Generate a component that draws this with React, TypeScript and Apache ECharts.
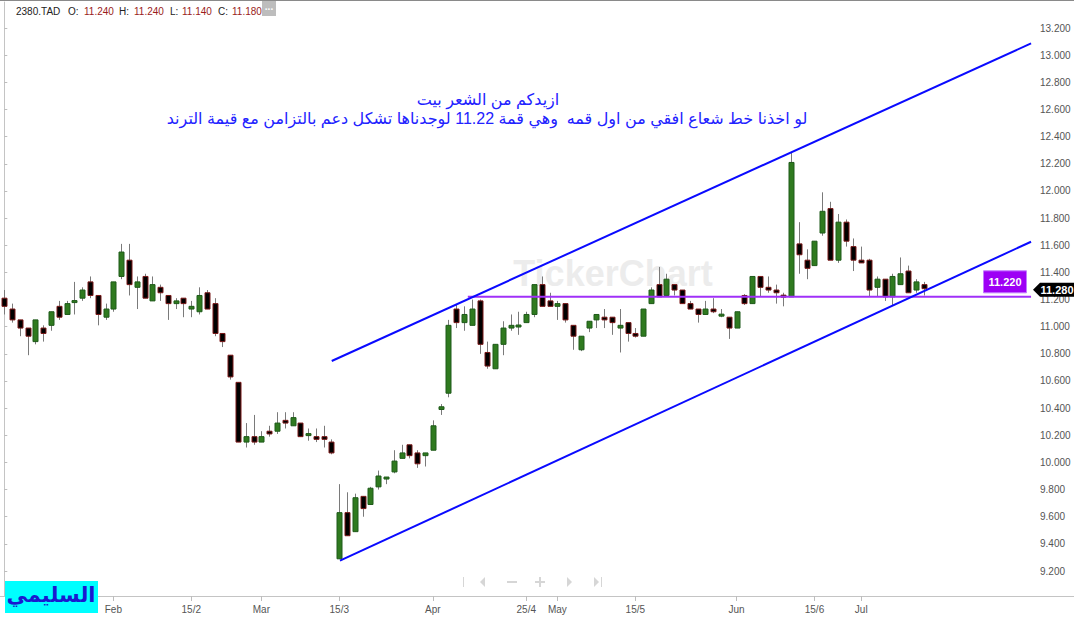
import React, { useEffect, useRef } from 'react';
import * as echarts from 'echarts';

// ---- data ----
const opens = [
  11.21, 11.13, 11.05, 10.99, 10.89, 10.99, 11.01, 11.15, 11.09, 11.18,
  11.21, 11.33, 11.23, 11.07, 11.13, 11.37, 11.49, 11.29, 11.37, 11.19,
  11.29, 11.23, 11.17, 11.21, 11.13, 11.11, 11.25, 11.17, 10.95, 10.79,
  10.59, 10.15, 10.19, 10.15, 10.23, 10.23, 10.31, 10.27, 10.29, 10.20,
  10.19, 10.19, 10.15, 9.29, 9.63, 9.49, 9.75, 9.69, 9.82, 9.88,
  9.93, 10.03, 10.13, 10.07, 10.05, 10.09, 10.39, 10.51, 11.13, 11.03,
  11.01, 11.19, 10.81, 10.69, 10.87, 10.99, 11.0, 11.03, 11.09, 11.31,
  11.19, 11.15, 11.17, 11.01, 10.83, 10.99, 11.05, 11.07, 11.07, 10.99,
  11.03, 10.95, 10.93, 11.17, 11.31, 11.23, 11.31, 11.27, 11.17, 11.13,
  11.09, 11.13, 11.08, 11.07, 10.99, 11.23, 11.17, 11.37, 11.29, 11.27,
  11.23, 11.22, 11.61, 11.49, 11.45, 11.69, 11.87, 11.49, 11.77, 11.59,
  11.49, 11.49, 11.29, 11.35, 11.22, 11.31, 11.41, 11.27, 11.31,
];
const closes = [
  11.15, 11.05, 10.99, 10.93, 11.05, 10.95, 11.11, 11.07, 11.17, 11.19,
  11.27, 11.23, 11.09, 11.13, 11.33, 11.55, 11.31, 11.33, 11.21, 11.31,
  11.25, 11.17, 11.19, 11.17, 11.15, 11.23, 11.13, 10.95, 10.89, 10.63,
  10.15, 10.19, 10.15, 10.19, 10.21, 10.29, 10.29, 10.33, 10.19, 10.21,
  10.17, 10.17, 10.07, 9.63, 9.46, 9.74, 9.66, 9.81, 9.90, 9.89,
  10.01, 10.07, 10.05, 9.99, 10.07, 10.27, 10.41, 11.01, 11.03, 11.09,
  11.13, 10.87, 10.71, 10.87, 10.99, 11.01, 11.01, 11.09, 11.31, 11.15,
  11.15, 11.17, 11.05, 10.93, 10.93, 11.04, 11.09, 11.05, 11.03, 11.01,
  10.95, 10.93, 11.13, 11.27, 11.22, 11.35, 11.27, 11.17, 11.13, 11.09,
  11.13, 11.11, 11.09, 10.99, 11.11, 11.17, 11.37, 11.29, 11.27, 11.25,
  11.22, 12.21, 11.53, 11.43, 11.63, 11.85, 11.49, 11.77, 11.63, 11.49,
  11.47, 11.27, 11.35, 11.22, 11.37, 11.39, 11.25, 11.33, 11.28,
];
const lows = [
  11.09, 11.03, 10.93, 10.79, 10.87, 10.89, 10.97, 11.05, 11.09, 11.09,
  11.19, 11.21, 11.01, 11.05, 11.11, 11.35, 11.23, 11.13, 11.21, 11.19,
  11.19, 11.05, 11.13, 11.07, 11.07, 11.09, 11.13, 10.93, 10.85, 10.61,
  10.15, 10.11, 10.13, 10.15, 10.19, 10.21, 10.25, 10.27, 10.19, 10.16,
  10.15, 10.11, 10.06, 9.29, 9.46, 9.49, 9.60, 9.69, 9.80, 9.84,
  9.92, 10.03, 10.03, 9.96, 9.97, 10.09, 10.35, 10.48, 10.99, 10.97,
  11.01, 10.80, 10.69, 10.69, 10.79, 10.97, 10.94, 11.03, 11.07, 11.15,
  11.15, 11.05, 11.03, 10.83, 10.82, 10.96, 10.99, 10.99, 10.94, 10.81,
  10.89, 10.92, 10.93, 11.17, 11.22, 11.23, 11.23, 11.17, 11.13, 11.03,
  11.09, 11.10, 11.07, 10.91, 10.99, 11.16, 11.17, 11.22, 11.25, 11.17,
  11.15, 11.22, 11.39, 11.35, 11.45, 11.67, 11.49, 11.47, 11.59, 11.41,
  11.47, 11.22, 11.22, 11.19, 11.16, 11.31, 11.25, 11.25, 11.23,
];
const highs = [
  11.27, 11.17, 11.05, 10.99, 11.05, 11.01, 11.11, 11.19, 11.19, 11.33,
  11.29, 11.37, 11.23, 11.17, 11.33, 11.61, 11.61, 11.37, 11.39, 11.37,
  11.31, 11.23, 11.21, 11.21, 11.19, 11.29, 11.27, 11.21, 10.95, 10.79,
  10.59, 10.29, 10.35, 10.23, 10.27, 10.37, 10.37, 10.37, 10.29, 10.25,
  10.25, 10.27, 10.17, 9.84, 9.78, 9.77, 9.75, 9.82, 9.94, 9.89,
  10.09, 10.13, 10.13, 10.09, 10.07, 10.31, 10.43, 11.05, 11.16, 11.15,
  11.20, 11.20, 10.89, 10.87, 11.04, 11.09, 11.11, 11.11, 11.31, 11.37,
  11.25, 11.19, 11.17, 11.01, 10.93, 11.04, 11.09, 11.13, 11.07, 11.13,
  11.03, 10.99, 11.13, 11.29, 11.44, 11.39, 11.31, 11.27, 11.19, 11.13,
  11.19, 11.21, 11.13, 11.07, 11.11, 11.24, 11.37, 11.37, 11.37, 11.31,
  11.25, 12.28, 11.77, 11.57, 11.63, 11.99, 11.92, 11.83, 11.79, 11.65,
  11.59, 11.50, 11.37, 11.35, 11.39, 11.51, 11.45, 11.35, 11.33,
];

const tickIndex = [14, 24, 33, 43, 55, 67, 71, 81, 94, 104, 110];
const tickLabels = ['Feb', '15/2', 'Mar', '15/3', 'Apr', '25/4', 'May', '15/5', 'Jun', '15/6', 'Jul'];
const priceTicks = [9.2, 9.4, 9.6, 9.8, 10.0, 10.2, 10.4, 10.6, 10.8, 11.0, 11.2, 11.4, 11.6, 11.8, 12.0, 12.2, 12.4, 12.6, 12.8, 13.0, 13.2];

const upperChannel = [[42.03, 10.747], [131.8, 13.087]];
const lowerChannel = [[43.09, 9.276], [131.8, 11.626]];
const supportLevel = 11.22;
const supportFrom = 59.5;
const supportTo = 131.8;
const lastClose = 11.28;

const headerSymbol = '2380.TAD';
const headerFields = [['O:', '11.240'], ['H:', '11.240'], ['L:', '11.140'], ['C:', '11.180']];

const noteLine1 = 'ازيدكم من الشعر بيت';
const noteLine2 = 'لو اخذنا خط شعاع افقي من اول قمه  وهي قمة 11.22 لوجدناها تشكل دعم بالتزامن مع قيمة الترند';
const signature = 'السليمي';
const watermark = 'TickerChart';

const FONT = 'Arial, "Liberation Sans", "DejaVu Sans", sans-serif';

export default function App() {
  const ref = useRef<HTMLDivElement>(null);

  useEffect(() => {
    const el = ref.current;
    if (!el) return;
    const chart = echarts.init(el, null, { renderer: 'svg' });

    const candleData = opens.map((o, i) => [i, o, closes[i], lows[i], highs[i]]);

    chart.setOption({
      animation: false,
      backgroundColor: '#ffffff',
      grid: { left: 0, right: 41, top: 2, bottom: 21 },
      xAxis: {
        type: 'value',
        min: -0.552,
        max: 132.05,
        axisLine: { show: true, lineStyle: { color: '#c4c4c4', width: 1 } },
        axisTick: { show: true, customValues: tickIndex, length: 5, lineStyle: { color: '#bdbdbd' } },
        axisLabel: {
          show: true,
          customValues: tickIndex,
          formatter: (v: number) => {
            const k = tickIndex.indexOf(Math.round(v));
            return k >= 0 ? tickLabels[k] : '';
          },
          color: '#555555',
          fontSize: 10,
          fontFamily: FONT,
          margin: 8,
        },
        splitLine: { show: false },
      },
      yAxis: {
        type: 'value',
        position: 'right',
        min: 9.016,
        max: 13.392,
        axisLine: { show: true, lineStyle: { color: '#c4c4c4', width: 1 } },
        axisTick: { show: true, customValues: priceTicks, length: 3, lineStyle: { color: '#bdbdbd' } },
        axisLabel: {
          show: true,
          customValues: priceTicks,
          formatter: (v: number) => v.toFixed(3),
          color: '#555555',
          fontSize: 10,
          fontFamily: FONT,
          margin: 7,
        },
        splitLine: { show: false },
      },
      series: [
        {
          type: 'custom',
          data: candleData,
          encode: { x: 0, y: [1, 2, 3, 4] },
          z: 3,
          clip: false,
          renderItem: (params: any, api: any) => {
            const x = api.value(0);
            const o = api.value(1);
            const c = api.value(2);
            const l = api.value(3);
            const h = api.value(4);
            const pO = api.coord([x, o]);
            const pC = api.coord([x, c]);
            const pL = api.coord([x, l]);
            const pH = api.coord([x, h]);
            const cx = Math.round(pO[0]) + 0.5;
            const up = c >= o;
            let top = Math.min(pO[1], pC[1]);
            let bot = Math.max(pO[1], pC[1]);
            if (bot - top < 1.5) {
              const m = (top + bot) / 2;
              top = m - 1;
              bot = m + 1;
            }
            const w = 5;
            return {
              type: 'group',
              children: [
                {
                  type: 'line',
                  shape: { x1: cx, y1: pH[1], x2: cx, y2: pL[1] },
                  style: { stroke: '#7a7a7a', lineWidth: 1 },
                },
                {
                  type: 'rect',
                  shape: { x: cx - w / 2, y: top, width: w, height: bot - top },
                  style: {
                    fill: up ? '#2f7a1f' : '#000000',
                    stroke: up ? '#1f5a1a' : '#7a1818',
                    lineWidth: 1,
                  },
                },
              ],
            };
          },
        },
        {
          type: 'line',
          data: upperChannel,
          symbol: 'none',
          silent: true,
          z: 5,
          lineStyle: { color: '#0a0aff', width: 2 },
        },
        {
          type: 'line',
          data: lowerChannel,
          symbol: 'none',
          silent: true,
          z: 5,
          lineStyle: { color: '#0a0aff', width: 2 },
        },
        {
          type: 'line',
          data: [[supportFrom, supportLevel], [supportTo, supportLevel]],
          symbol: 'none',
          silent: true,
          z: 4,
          lineStyle: { color: '#a030f8', width: 2 },
        },
      ],
    });

    const sy = chart.convertToPixel({ yAxisIndex: 0 }, supportLevel) as unknown as number;
    const cy = (chart.convertToPixel({ yAxisIndex: 0 }, lastClose) as unknown as number) + 1;

    const graphics: any[] = [];
    graphics.push({ type: 'line', shape: { x1: 0, y1: 0.5, x2: 1074, y2: 0.5 }, style: { stroke: '#8a8a8a', lineWidth: 1 }, z: 1 });
    graphics.push({ type: 'line', shape: { x1: 1033, y1: 596.5, x2: 1074, y2: 596.5 }, style: { stroke: '#c4c4c4', lineWidth: 1 }, z: 1 });

    graphics.push({ type: 'text', x: 16, y: 11, style: { text: headerSymbol, fill: '#222222', font: `10px ${FONT}`, verticalAlign: 'middle' }, z: 10 });
    const labelX = [68, 119, 170, 218];
    const valueX = [84, 134, 182, 232];
    headerFields.forEach((f, i) => {
      graphics.push({ type: 'text', x: labelX[i], y: 11, style: { text: f[0], fill: '#222222', font: `10px ${FONT}`, verticalAlign: 'middle' }, z: 10 });
      graphics.push({ type: 'text', x: valueX[i], y: 11, style: { text: f[1], fill: '#9a1c1c', font: `10px ${FONT}`, verticalAlign: 'middle' }, z: 10 });
    });
    graphics.push({ type: 'rect', shape: { x: 262, y: 1, width: 14, height: 15 }, style: { fill: '#bdbdbd' }, z: 10 });
    graphics.push({ type: 'text', x: 269, y: 6, style: { text: '...', fill: '#ffffff', font: `bold 10px ${FONT}`, align: 'center', verticalAlign: 'middle' }, z: 11 });

    graphics.push({ type: 'text', x: 613, y: 273, style: { text: watermark, fill: '#ececec', font: `bold 36px ${FONT}`, align: 'center', verticalAlign: 'middle' }, z: 0 });

    graphics.push({ type: 'text', x: 488, y: 99, style: { text: noteLine1, fill: '#2222ff', font: `16px ${FONT}`, align: 'center', verticalAlign: 'middle' }, z: 10 });
    graphics.push({ type: 'text', x: 487, y: 118, style: { text: noteLine2, fill: '#2222ff', font: `16px ${FONT}`, align: 'center', verticalAlign: 'middle' }, z: 10 });

    graphics.push({ type: 'rect', shape: { x: 5, y: 581, width: 93, height: 32 }, style: { fill: '#00ffff' }, z: 10 });
    graphics.push({ type: 'text', x: 51, y: 594, style: { text: signature, fill: '#1a1ad0', font: `bold 21px ${FONT}`, align: 'center', verticalAlign: 'middle' }, z: 11 });

    const navC = '#d6d6d6';
    graphics.push({ type: 'rect', shape: { x: 463, y: 577, width: 1, height: 10 }, style: { fill: navC }, z: 10 });
    graphics.push({ type: 'polygon', shape: { points: [[480, 582], [485, 577], [485, 587]] }, style: { fill: navC }, z: 10 });
    graphics.push({ type: 'rect', shape: { x: 507, y: 581, width: 10, height: 2 }, style: { fill: navC }, z: 10 });
    graphics.push({ type: 'rect', shape: { x: 535, y: 581, width: 10, height: 2 }, style: { fill: navC }, z: 10 });
    graphics.push({ type: 'rect', shape: { x: 539, y: 577, width: 2, height: 10 }, style: { fill: navC }, z: 10 });
    graphics.push({ type: 'polygon', shape: { points: [[567, 577], [572, 582], [567, 587]] }, style: { fill: navC }, z: 10 });
    graphics.push({ type: 'polygon', shape: { points: [[594, 577], [599, 582], [594, 587]] }, style: { fill: navC }, z: 10 });
    graphics.push({ type: 'rect', shape: { x: 601, y: 577, width: 1, height: 10 }, style: { fill: navC }, z: 10 });

    graphics.push({ type: 'rect', shape: { x: 983.5, y: sy - 26, width: 43, height: 22 }, style: { fill: '#9d00f5', stroke: '#c27cff', lineWidth: 1 }, z: 10 });
    graphics.push({ type: 'text', x: 1005, y: sy - 15, style: { text: supportLevel.toFixed(3), fill: '#ffffff', font: `bold 11px ${FONT}`, align: 'center', verticalAlign: 'middle' }, z: 11 });

    graphics.push({ type: 'polygon', shape: { points: [[1033, cy], [1040, cy - 7], [1074, cy - 7], [1074, cy + 7], [1040, cy + 7]] }, style: { fill: '#000000' }, z: 10 });
    graphics.push({ type: 'text', x: 1057, y: cy, style: { text: lastClose.toFixed(3), fill: '#ffffff', font: `bold 11px ${FONT}`, align: 'center', verticalAlign: 'middle' }, z: 11 });

    chart.setOption({ graphic: graphics });

    return () => chart.dispose();
  }, []);

  return (
    <div
      ref={ref}
      style={{ position: 'fixed', left: 0, top: 0, width: 1074, height: 617, background: '#ffffff' }}
    />
  );
}
